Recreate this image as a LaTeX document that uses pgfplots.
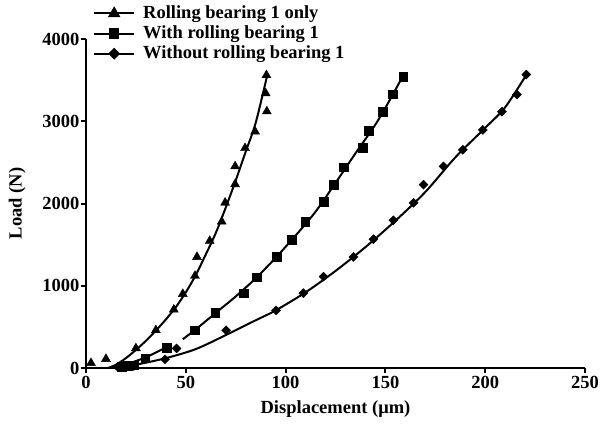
\documentclass[border=0pt]{standalone}
\usepackage{fontspec}
\setmainfont{Liberation Serif}
\usepackage{pgfplots}
\pgfplotsset{compat=1.18}
\begin{document}
\fontsize{18.5bp}{22bp}\selectfont\bfseries
\begin{tikzpicture}
\path (-86bp,-55bp) rectangle (516bp,368bp);
\begin{axis}[
  scale only axis,
  width=499bp, height=329bp,
  xmin=0, xmax=250, ymin=0, ymax=4000,
  axis x line*=bottom, axis y line*=left,
  axis line style={-, line width=2.3bp},
  xtick={0,50,...,250}, ytick={0,1000,...,4000},
  tick align=outside, major tick length=5bp,
  tick style={line width=2bp, black},
  /pgf/number format/assume math mode=true,
  /pgf/number format/1000 sep={},
  tick label style={font=\fontsize{18.5bp}{22bp}\selectfont\bfseries},
  yticklabel style={inner sep=1.5bp},
  xticklabel style={inner sep=3bp},
  xlabel={Displacement (μm)},
  ylabel={Load (N)},
  label style={font=\fontsize{18.5bp}{22bp}\selectfont\bfseries},
  xlabel style={at={(axis description cs:0.5,-0.125)}, anchor=center},
  ylabel style={at={(axis description cs:-0.138,0.5)}, anchor=center},
  clip=false,
  legend cell align=left,
  legend image code/.code={\draw[mark repeat=2,mark phase=2,#1] plot coordinates {(0bp,0bp) (20bp,0bp) (40bp,0bp)};},
  legend style={at={(axis description cs:0.014,1.105)}, anchor=north west, draw=none, fill=none,
    inner sep=0pt, font=\fontsize{18.5bp}{22bp}\selectfont\bfseries, row sep=2.5bp,
    nodes={inner sep=1bp},
    /tikz/every odd column/.append style={column sep=7bp}},
]
\addlegendimage{black, line width=2bp, mark=triangle*, mark size=5.2bp, mark options={solid}}
\addlegendentry{Rolling bearing 1 only}
\addlegendimage{black, line width=2bp, mark=square*, mark size=4.3bp, mark options={solid}}
\addlegendentry{With rolling bearing 1}
\addlegendimage{black, line width=2bp, mark=square*, mark size=3.2bp, mark options={solid, rotate=45}}
\addlegendentry{Without rolling bearing 1}

% fitted curves
\addplot[black, line width=2bp, smooth, forget plot] coordinates {
(11,0) (15,40) (20,120) (25,220) (30,330) (35,455) (40,590) (45,740) (50,920) (55,1130) (60,1380) (65,1640) (70,1950) (75,2280) (80,2630) (85,2980) (91,3580)};
\addplot[black, line width=2bp, smooth, forget plot] coordinates {
(13,0) (20,45) (30,130) (40,250)};
\addplot[black, line width=2bp, smooth, forget plot] coordinates {
(48.5,350) (55,470) (65,670) (75,870) (85,1090) (95,1340) (105,1610) (115,1900) (125,2250) (135,2610) (145,2960) (152,3250) (159,3560)};
\addplot[black, line width=2bp, smooth, forget plot] coordinates {
(15,0) (25,40) (40,120) (55,230) (70,400) (85,580) (95,700) (110,920) (125,1180) (140,1470) (155,1790) (170,2140) (185,2560) (200,2920) (210,3170) (221,3580)};

% data marks
\addplot[only marks, black, mark=triangle*, mark size=5.2bp, forget plot] coordinates {
(2.5,60) (10,110) (25,240) (35,460) (44,710) (48.5,900) (54.6,1120) (55.6,1350) (62,1545) (68,1780) (69.7,2010) (74.7,2234) (74.7,2452) (79.7,2673) (84.7,2875) (90.6,3120) (90,3340) (90.4,3560)};
\addplot[only marks, black, mark=square*, mark size=4.3bp, forget plot] coordinates {
(18,15) (21,25) (24,36) (29.6,117) (40.4,250) (54.6,459) (64.7,672) (78.9,910) (85.5,1103) (95.4,1350) (103,1558) (109.8,1779) (119,2021) (124,2226) (129.2,2440) (138.7,2677) (141.5,2883) (148.7,3116) (153.8,3330) (159,3545)};
\addplot[only marks, black, mark=square*, mark size=3.2bp, mark options={rotate=45}, forget plot] coordinates {
(16,12) (20,20) (24,25) (39.6,105) (45.4,238) (70.2,459) (95.2,700) (108.9,910) (119,1111) (134,1350) (144,1566) (154,1796) (164.1,2009) (169.1,2230) (179.1,2452) (188.8,2653) (198.8,2895) (208.4,3116) (215.9,3325) (220.6,3567)};
\end{axis}
\end{tikzpicture}
\end{document}
